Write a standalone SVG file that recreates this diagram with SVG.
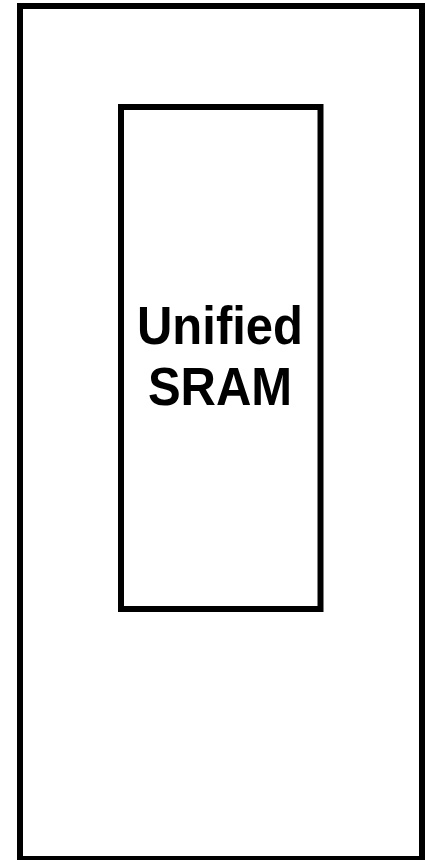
<svg xmlns="http://www.w3.org/2000/svg" width="427" height="860" viewBox="0 0 427 860">
<style>
.box{fill:#fff;stroke:#000;stroke-width:6}
.lbl{font-family:"Liberation Sans",Arial,sans-serif;font-weight:bold;font-size:49px;text-anchor:middle;fill:#000}
</style>
<rect width="427" height="860" fill="#fff"/>
<g id="chip"><rect class="box" x="20" y="6" width="402" height="853"/></g>
<g id="sram">
<rect class="box" x="121" y="107" width="199.5" height="502"/>
<text class="lbl" transform="translate(220,344) scale(1,1.08)">Unified</text>
<text class="lbl" transform="translate(220,405) scale(1,1.08)">SRAM</text>
</g>
<g id="connectors"/>
</svg>
